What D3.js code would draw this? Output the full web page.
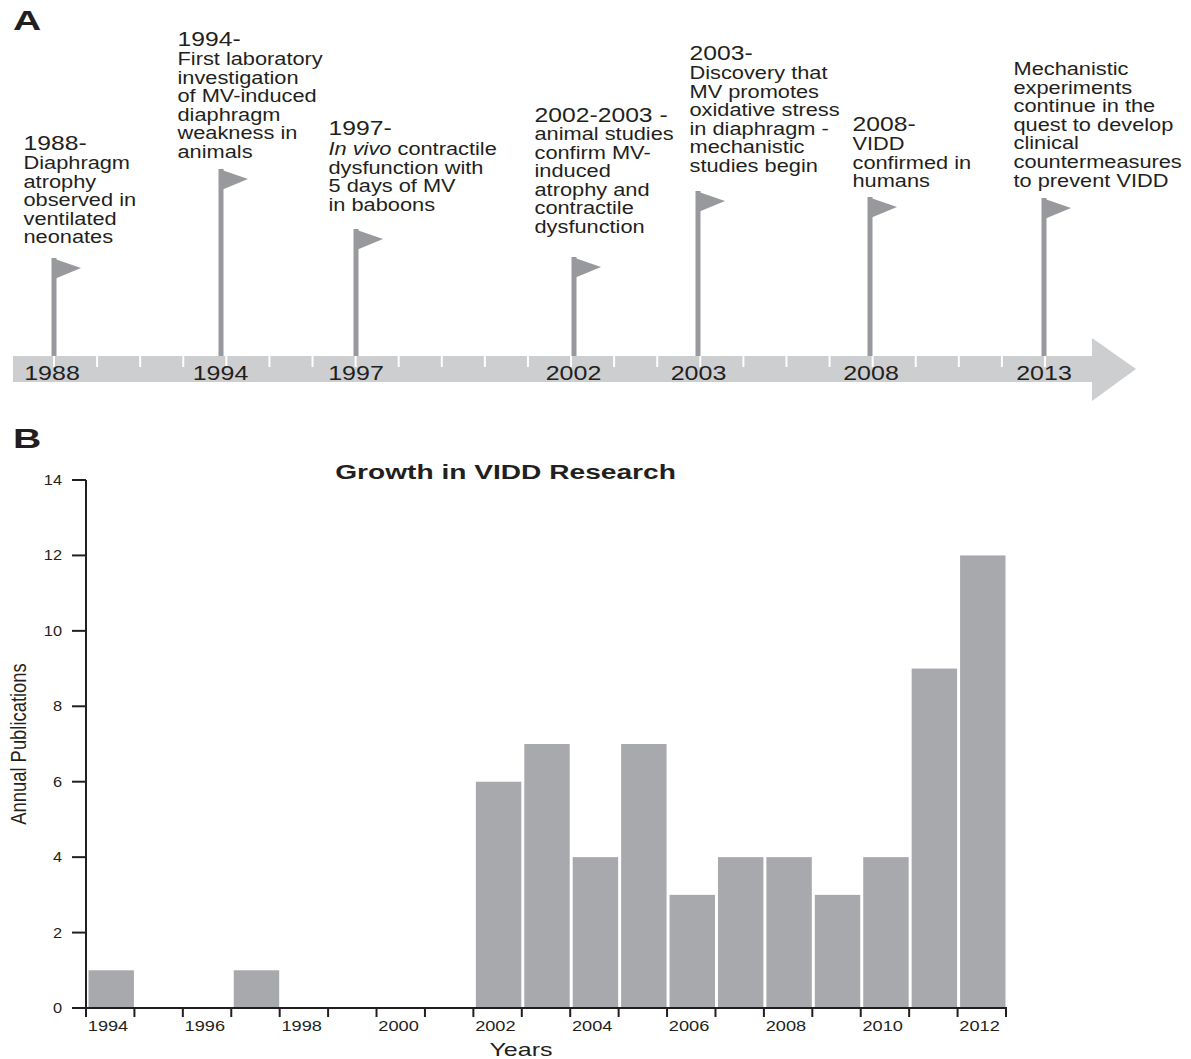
<!DOCTYPE html>
<html><head><meta charset="utf-8">
<script src="https://cdn.jsdelivr.net/npm/d3@7"></script>
<style>html,body{margin:0;padding:0;background:#fff}svg{display:block}text{font-family:"Liberation Sans",Arial,sans-serif;fill:#231f20}</style>
</head><body><svg id="c" width="1191" height="1059"></svg>
<script>
const pubYears = d3.range(1994, 2013);
const pubCounts = [1,0,0,1,0,0,0,0,6,7,4,7,3,4,4,3,4,9,12];
const yTicks = [0,2,4,6,8,10,12,14];
const xTickLabels = [1994,1996,1998,2000,2002,2004,2006,2008,2010,2012];
const timelineYears = [1988,1994,1997,2002,2003,2008,2013];
const timelineHeads = ["1988-","1994-","1997-","2002-2003 -","2003-","2008-",""];
const timelineNotes = [
 ["Diaphragm","atrophy","observed in","ventilated","neonates"],
 ["First laboratory","investigation","of MV-induced","diaphragm","weakness in","animals"],
 ["@In vivo@ contractile","dysfunction with","5 days of MV","in baboons"],
 ["animal studies","confirm MV-","induced","atrophy and","contractile","dysfunction"],
 ["Discovery that","MV promotes","oxidative stress","in diaphragm -","mechanistic","studies begin"],
 ["VIDD","confirmed in","humans"],
 ["Mechanistic","experiments","continue in the","quest to develop","clinical","countermeasures","to prevent VIDD"]
];
const svg = d3.select("#c");
const sx = 1.17; // horizontal stretch of the reference
function st(sel,x,y,txt,size,opt={}){
  const t = sel.append("text").attr("transform",`translate(${x},${y}) scale(${opt.sx||sx},1)`)
    .attr("font-size",size).attr("text-anchor",opt.anchor||"start").attr("font-weight",opt.weight||null);
  txt.split("@").forEach((p,i)=>{ if(p) t.append("tspan").attr("font-style",i%2?"italic":null).text(p);});
  return t;
}
// Panel letters
st(svg,13,30,"A",27,{weight:"bold",sx:1.45});
st(svg,13,448,"B",27,{weight:"bold",sx:1.45});
// Timeline
const tl = svg.append("g");
const tlX = d3.scaleLinear().domain(timelineYears).range([54,221,356,574,698,870,1044]);
const tlLabelX = d3.scaleLinear().domain(timelineYears).range([52,220.5,356,573.5,698.5,871,1044]);
const barTop=356, barBot=382, tip=1136, headX=1092;
tl.append("path").attr("fill","#cdced0").attr("d",d3.line()([[13,barTop],[headX,barTop],[headX,338],[tip,369],[headX,401],[headX,barBot],[13,barBot]]));
const tlTicks = d3.range(0,24).map(i=>54+i*(1045-54)/23);
tl.selectAll("line.t").data(tlTicks).join("line").attr("x1",d=>d).attr("x2",d=>d).attr("y1",barTop).attr("y2",367).attr("stroke","#fff").attr("stroke-width",2);
const flagTops=[258,169,229,257,191,197,198];
const headY=[150,46,135,122,60,131,null];
const g = tl.selectAll("g.f").data(timelineYears).join("g");
g.append("line").attr("x1",d=>tlX(d)).attr("x2",d=>tlX(d)).attr("y1",(d,i)=>flagTops[i]).attr("y2",barTop).attr("stroke","#98999c").attr("stroke-width",5);
g.append("path").attr("fill","#98999c").attr("d",(d,i)=>{const x=tlX(d)-2,y=flagTops[i];return d3.line()([[x,y],[x+29,y+10],[x,y+22]]);});
g.each(function(d,i){ st(d3.select(this),tlLabelX(d),380,String(d),20,{anchor:"middle",sx:1.25}); });
const textX=[23.5,177.5,328.5,534.5,689.5,852.5,1013.5];
const noteY0=[169,65,155,140,79,150,75];
const noteStep=18.6;
timelineNotes.forEach((lines,i)=>{
  if(timelineHeads[i]) st(svg,textX[i],headY[i],timelineHeads[i],20,{sx:1.235});
  lines.forEach((l,j)=>st(svg,textX[i],noteY0[i]+j*noteStep,l,17.5,{sx:1.245}));
});
// Bar chart
const y = d3.scaleLinear().domain([0,14]).range([1008,480]);
const step = (1006-86)/19;
svg.append("g").selectAll("rect").data(pubYears).join("rect")
 .attr("x",d=>86+(d-1994)*step+2.5).attr("width",step-3).attr("y",(d,i)=>y(pubCounts[i])).attr("height",(d,i)=>y(0)-y(pubCounts[i])).attr("fill","#a7a9ac");
const ax = svg.append("g").attr("stroke","#231f20").attr("stroke-width",2);
ax.append("line").attr("x1",72).attr("x2",1007).attr("y1",y(0)).attr("y2",y(0));
ax.append("line").attr("x1",86).attr("x2",86).attr("y1",480).attr("y2",1017);
ax.selectAll("line.y").data(yTicks).join("line").attr("x1",72).attr("x2",86).attr("y1",d=>y(d)).attr("y2",d=>y(d));
ax.selectAll("line.x").data(d3.range(0,20)).join("line").attr("x1",d=>86+d*step).attr("x2",d=>86+d*step).attr("y1",y(0)).attr("y2",1017);
yTicks.forEach(v=>st(svg,62,y(v)+5,String(v),14,{anchor:"end"}));
xTickLabels.forEach(v=>st(svg,86+(v-1994)*step+22,1031,String(v),14,{anchor:"middle",sx:1.3}));
st(svg,505.5,479,"Growth in VIDD Research",21,{anchor:"middle",weight:"bold",sx:1.34});
st(svg,521,1056,"Years",17.5,{anchor:"middle",sx:1.43});
svg.append("text").attr("transform","translate(26,744) rotate(-90) scale(0.92,1.1)").attr("text-anchor","middle").attr("font-size",20).text("Annual Publications");
</script></body></html>
